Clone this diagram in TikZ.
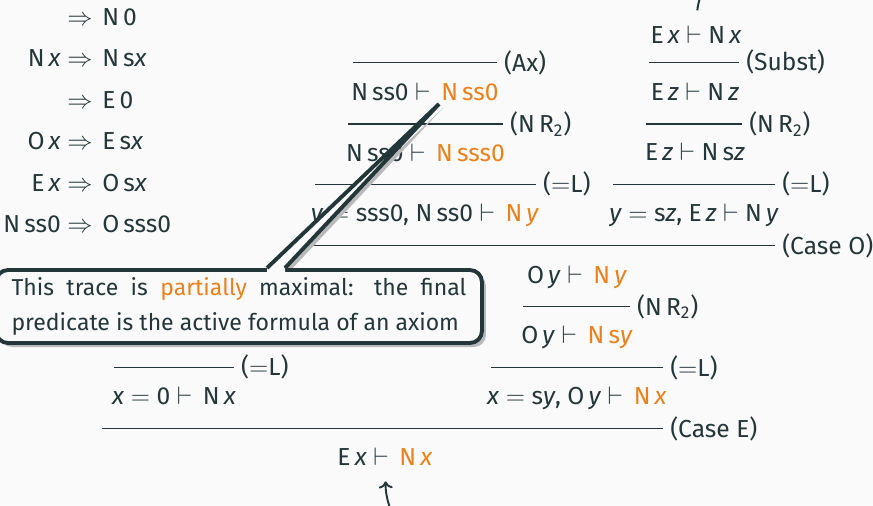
\documentclass[tikz,border=0pt]{standalone}
\usepackage{fontspec}
\setmainfont{Fira Sans}
\usetikzlibrary{shadows, calc, arrows.meta}
\definecolor{bgc}{HTML}{FAFAFA}
\definecolor{darkteal}{HTML}{23373B}
\definecolor{alertc}{HTML}{EB811B}
\definecolor{shadowc}{HTML}{B9B9B9}

\def\hl#1{\textcolor{alertc}{#1}}
\def\vx{\textit{x}}
\def\vy{\textit{y}}
\def\vz{\textit{z}}

\begin{document}
\begin{tikzpicture}[x=0.02cm, y=-0.02cm,
  every node/.style={font=\fontsize{14}{17}\selectfont, text=darkteal},
  seq/.style={anchor=base, inner sep=0pt},
  ruleline/.style={draw=darkteal, line width=0.85pt},
  rulelabel/.style={anchor=west, inner sep=0pt, xshift=0.13cm},
  backedge/.style={draw=darkteal, line width=1.1pt},
  notebox/.style={draw=darkteal, line width=2.2pt, fill=bgc, rounded corners=0.24cm,
    minimum width=9.72cm, minimum height=1.46cm, inner sep=0pt,
    text width=9.1cm, align=justify, font=\fontsize{13.1}{19.9}\selectfont,
    drop shadow={shadow xshift=0.08cm, shadow yshift=-0.08cm, fill=shadowc, opacity=1}}]

  \clip (0,0) rectangle (873,505);
  \fill[bgc] (0,0) rectangle (873,505);

  % Helper macro: \infrule{name}{x_left}{x_right}{y}{rule_label}
  \def\infrule#1#2#3#4#5{%
    \draw[ruleline] (#2,#4) -- (#3,#4) node[rulelabel] (#1) {#5};
  }

  % Production rules
  \foreach \lhs/\rhs [count=\i] in {{}/{N\,0}, {N\,\vx}/{N\,s\vx}, {}/{E\,0},
      {O\,\vx}/{E\,s\vx}, {E\,\vx}/{O\,s\vx}, {N\,ss0}/{O\,sss0}} {
    \pgfmathsetmacro{\rowy}{25+(\i-1)*41.5}
    \node[seq, anchor=base east] (lhs-\i) at (93,\rowy) {\lhs\ $\Rightarrow$};
    \node[seq, anchor=base west] (rhs-\i) at (102,\rowy) {\rhs};
  }

  % Left premise of (Case O)
  \infrule{r-ax}{353}{497}{62.5}{(Ax)}
  \node[seq] (s-ax) at (425,100) {N\,ss0 $\vdash$\ \,\hl{N\,ss0}};
  \infrule{r-nr2a}{348}{503}{124}{(N\,R\textsubscript{2})}
  \node[seq] (s-nr2a) at (425.5,161.7) {N\,ss0 $\vdash$\ \,\hl{N\,sss0}};
  \infrule{r-eqla}{315}{536}{184.3}{($=$L)}
  \node[seq] (s-eqla) at (425,221.7) {\vy\ $=$ sss0, N\,ss0 $\vdash$\ \,\hl{N\,\vy}};

  % Right premise of (Case O)
  \node[seq] (t-top) at (696,43.3) {E\,\vx\ $\vdash$ N\,\vx};
  \infrule{r-subst}{649}{739}{62.3}{(Subst)}
  \node[seq] (t-subst) at (695,100) {E\,\vz\ $\vdash$ N\,\vz};
  \infrule{r-nr2b}{646}{742}{124}{(N\,R\textsubscript{2})}
  \node[seq] (t-nr2b) at (695,160.7) {E\,\vz\ $\vdash$ N\,s\vz};
  \infrule{r-eqlb}{613}{775}{184.3}{($=$L)}
  \node[seq] (t-eqlb) at (694,221.7) {\vy\ $=$ s\vz, E\,\vz\ $\vdash$ N\,\vy};
  \infrule{r-caseo}{313}{775}{245.7}{(Case O)}

  % Odd branch
  \node[seq] (m-caseo) at (577,283.3) {O\,\vy\ $\vdash$\ \,\hl{N\,\vy}};
  \infrule{r-nr2c}{523}{630}{306.7}{(N\,R\textsubscript{2})}
  \node[seq] (m-nr2c) at (577,343.3) {O\,\vy\ $\vdash$\ \,\hl{N\,s\vy}};
  \infrule{r-eqlc}{491}{663}{367.7}{($=$L)}
  \node[seq] (m-eqlc) at (577,404) {\vx\ $=$ s\vy, O\,\vy\ $\vdash$\ \,\hl{N\,\vx}};

  % Zero branch and root
  \infrule{r-eqld}{114}{234}{367.3}{($=$L)}
  \node[seq] (l-eqld) at (174,404) {\vx\ $=$ 0 $\vdash$\ \,N\,\vx};
  \infrule{r-casee}{102}{663}{428.7}{(Case E)}
  \node[seq] (root) at (385,465) {E\,\vx\ $\vdash$\ \,\hl{N\,\vx}};

  % Back edge (leaves the frame)
  \coordinate (loop-in) at (393,515);
  \coordinate (loop-out) at (712,-25);
  \draw[backedge, -{To[length=4pt, width=8pt]}, shorten >=0.32cm] (loop-in) to[out=115, in=-88] (root.south);
  \draw[backedge, shorten <=0.3cm] (t-top.north) to[out=85, in=235] (loop-out);

  % Callout
  \coordinate (tip) at (439,104);
  \coordinate (base-l) at (267,268);
  \coordinate (base-r) at (285,268);
  \fill[shadowc] ([shift={(4,4)}]base-l) -- ([shift={(4,4)}]tip) -- ([shift={(4,4)}]base-r) -- cycle;
  \node[notebox] (note) at (239,306.5)
    {This trace is \hl{partially} maximal: the final predicate is the active formula of an axiom};
  \fill[bgc] (base-l) -- (tip) -- (base-r) -- ++(0,7) -- ($(base-l)+(0,7)$) -- cycle;
  \draw[darkteal, line width=2.2pt] (base-l) -- (tip) -- (base-r);
\end{tikzpicture}
\end{document}
